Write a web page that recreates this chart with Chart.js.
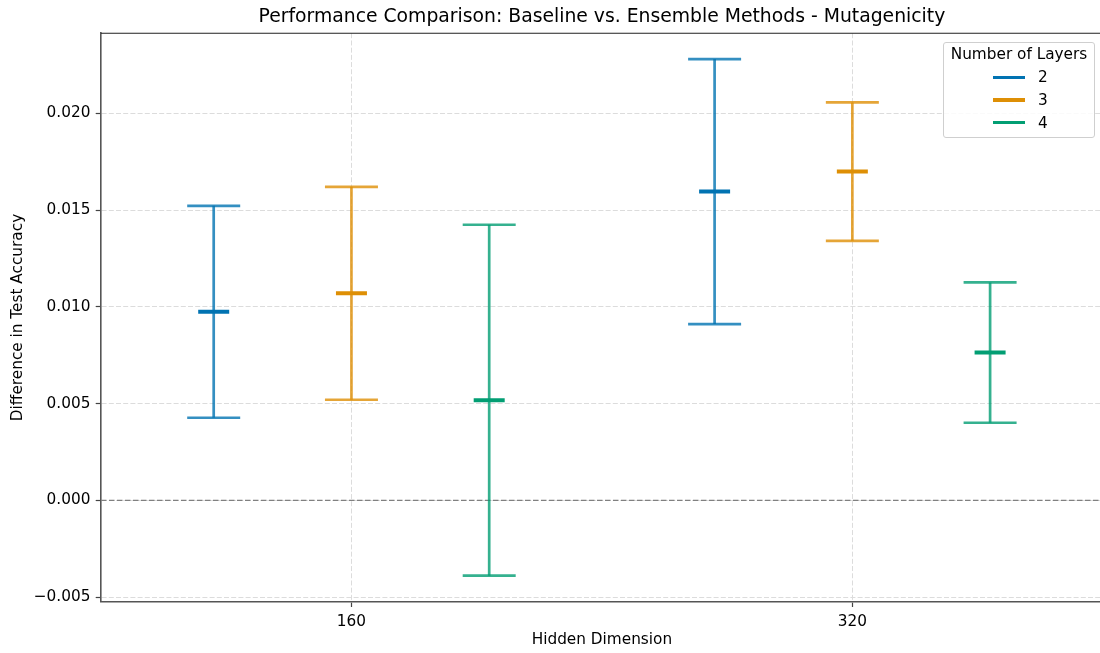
<!DOCTYPE html>
<html>
<head>
<meta charset="utf-8">
<script src="https://cdn.jsdelivr.net/npm/chart.js@4.4.1/dist/chart.umd.min.js"></script>
<style>
  html, body { margin: 0; padding: 0; background: #ffffff; overflow: hidden; }
  body { width: 1100px; height: 653px; position: relative; font-family: 'DejaVu Sans', sans-serif; }
  #wrap { position: absolute; left: 0; top: 0; width: 1400px; height: 653px; }
  #c { display: block; }
  #legend {
    position: absolute; left: 943px; top: 42px; width: 150px; height: 94px;
    border: 1px solid #cfcfcf; border-radius: 3px; background: rgba(255,255,255,0.85);
    font-size: 15.3px; color: #000; line-height: 18px;
  }
  #legend .ttl { position: absolute; left: 0; right: 0; top: 2.3px; text-align: center; white-space: nowrap; }
  #legend .row { position: absolute; left: 49px; height: 18px; white-space: nowrap; }
  #legend .swatch { position: absolute; left: 0; top: 7.4px; width: 32px; height: 3.3px; }
  #legend .lab { position: absolute; left: 45px; top: 0; }
</style>
</head>
<body>
<div id="wrap"><canvas id="c" width="1104" height="653" style="width:1104px;height:653px"></canvas></div>
<div id="legend"></div>
<script>
// Hidden dimension groups on the x axis
const hiddenDims = ['160', '320'];
// Number of layers (one series each)
const layerLabels = ['2', '3', '4'];
const layerColors = ['#0173b2', '#de8f05', '#029e73'];

// Mean difference in test accuracy (ensemble - baseline), per hidden dimension
const meanL2 = [0.009742, 0.015951];
const meanL3 = [0.010697, 0.016984];
const meanL4 = [0.005171, 0.007634];

// Half-width of the error bars, per hidden dimension
const errL2 = [0.005475, 0.006845];
const errL3 = [0.005501, 0.003575];
const errL4 = [0.009066, 0.003626];

// Y axis tick values
const yTickValues = [-0.005, 0.000, 0.005, 0.010, 0.015, 0.020];

const FONT = "'DejaVu Sans', sans-serif";
const PLOT_RIGHT = 1103;
const groupOffsets = [-0.275, 0, 0.275];
const means = [meanL2, meanL3, meanL4];
const errs = [errL2, errL3, errL4];

function withAlpha(hex, a) {
  const n = parseInt(hex.slice(1), 16);
  return `rgba(${(n >> 16) & 255},${(n >> 8) & 255},${n & 255},${a})`;
}

const datasets = [];
// dashed reference line at zero
datasets.push({
  data: [{ x: -0.5, y: 0 }, { x: 1.5, y: 0 }],
  showLine: true, borderColor: '#808080', borderWidth: 1.2, borderDash: [5.5, 2.5],
  pointRadius: 0, order: 10
});

layerLabels.forEach((lab, li) => {
  const soft = withAlpha(layerColors[li], 0.8);
  hiddenDims.forEach((dim, gi) => {
    const x = gi + groupOffsets[li];
    const m = means[li][gi];
    const e = errs[li][gi];
    // vertical whisker with caps at both ends
    datasets.push({
      label: lab,
      data: [{ x: x, y: m - e }, { x: x, y: m + e }],
      showLine: true, borderColor: soft, borderWidth: 2.7,
      pointStyle: 'line', pointRadius: 26.5, pointBorderWidth: 2.7,
      pointBorderColor: soft, pointBackgroundColor: soft, order: 5
    });
  });
  // mean marker
  datasets.push({
    label: lab,
    data: hiddenDims.map((d, gi) => ({ x: gi + groupOffsets[li], y: means[li][gi] })),
    showLine: false, pointStyle: 'line', pointRadius: 15.5, pointBorderWidth: 4,
    pointBorderColor: layerColors[li], pointBackgroundColor: layerColors[li], order: 1
  });
});

const topFrame = {
  id: 'topFrame',
  afterDraw(chart) {
    const { ctx, chartArea: a } = chart;
    ctx.save();
    ctx.strokeStyle = '#222';
    ctx.lineWidth = 1.2;
    ctx.beginPath();
    ctx.moveTo(a.left, a.top);
    ctx.lineTo(a.right, a.top);
    ctx.lineTo(a.right, a.bottom);
    ctx.stroke();
    ctx.restore();
  }
};

const tickFont = { family: FONT, size: 15.3 };

const chart = new Chart(document.getElementById('c'), {
  type: 'scatter',
  data: { datasets: datasets },
  plugins: [topFrame],
  options: {
    responsive: false,
    maintainAspectRatio: false,
    devicePixelRatio: 1,
    animation: false,
    events: [],
    layout: { padding: { left: 0, right: 1, top: 0, bottom: 0 } },
    plugins: {
      legend: { display: false },
      tooltip: { enabled: false },
      title: {
        display: true,
        fullSize: false,
        text: 'Performance Comparison: Baseline vs. Ensemble Methods - Mutagenicity',
        font: { family: FONT, size: 18.8, weight: 'normal' },
        color: '#000',
        padding: { top: 6, bottom: 4.7 }
      }
    },
    scales: {
      x: {
        type: 'linear', min: -0.5, max: 1.5,
        afterBuildTicks: s => { s.ticks = hiddenDims.map((d, i) => ({ value: i })); },
        afterFit: s => { s.height = 51.3; },
        ticks: {
          callback: v => hiddenDims[Math.round(v)],
          font: tickFont, color: '#000', padding: 6, maxRotation: 0, autoSkip: false
        },
        grid: { color: '#dcdcdc', lineWidth: 1, tickColor: '#444', tickLength: 5.3, tickWidth: 1.2 },
        border: { color: '#555', width: 1.6, dash: [5, 2.2] },
        title: {
          display: true, text: 'Hidden Dimension',
          font: { family: FONT, size: 15.3 }, color: '#000',
          padding: { top: 0, bottom: 3.8 }
        }
      },
      y: {
        type: 'linear', min: -0.005238, max: 0.024132,
        afterBuildTicks: s => { s.ticks = yTickValues.map(v => ({ value: v })); },
        afterFit: s => { s.width = 101; },
        ticks: {
          callback: v => (v < -1e-12 ? '\u2212' : '') + Math.abs(v).toFixed(3),
          font: tickFont, color: '#000', padding: 5.3, autoSkip: false
        },
        grid: { color: '#dcdcdc', lineWidth: 1, tickColor: '#444', tickLength: 5.3, tickWidth: 1.2 },
        border: { color: '#555', width: 1.6, dash: [5, 2.2] },
        title: {
          display: true, text: 'Difference in Test Accuracy',
          font: { family: FONT, size: 15.3 }, color: '#000',
          padding: { top: 8.8, bottom: 0 }
        }
      }
    }
  }
});

// widen the canvas until the plot area reaches its right edge
for (let k = 0; k < 5; k++) {
  const diff = PLOT_RIGHT - chart.chartArea.right;
  if (Math.abs(diff) < 0.6) break;
  chart.resize(Math.round(chart.width + diff), 653);
}

// legend box
const legend = document.getElementById('legend');
const ttl = document.createElement('div');
ttl.className = 'ttl';
ttl.textContent = 'Number of Layers';
legend.appendChild(ttl);
layerLabels.forEach((lab, i) => {
  const row = document.createElement('div');
  row.className = 'row';
  row.style.top = (25.3 + i * 22.7) + 'px';
  const sw = document.createElement('div');
  sw.className = 'swatch';
  sw.style.background = layerColors[i];
  const tx = document.createElement('div');
  tx.className = 'lab';
  tx.textContent = lab;
  row.appendChild(sw);
  row.appendChild(tx);
  legend.appendChild(row);
});
</script>
</body>
</html>
